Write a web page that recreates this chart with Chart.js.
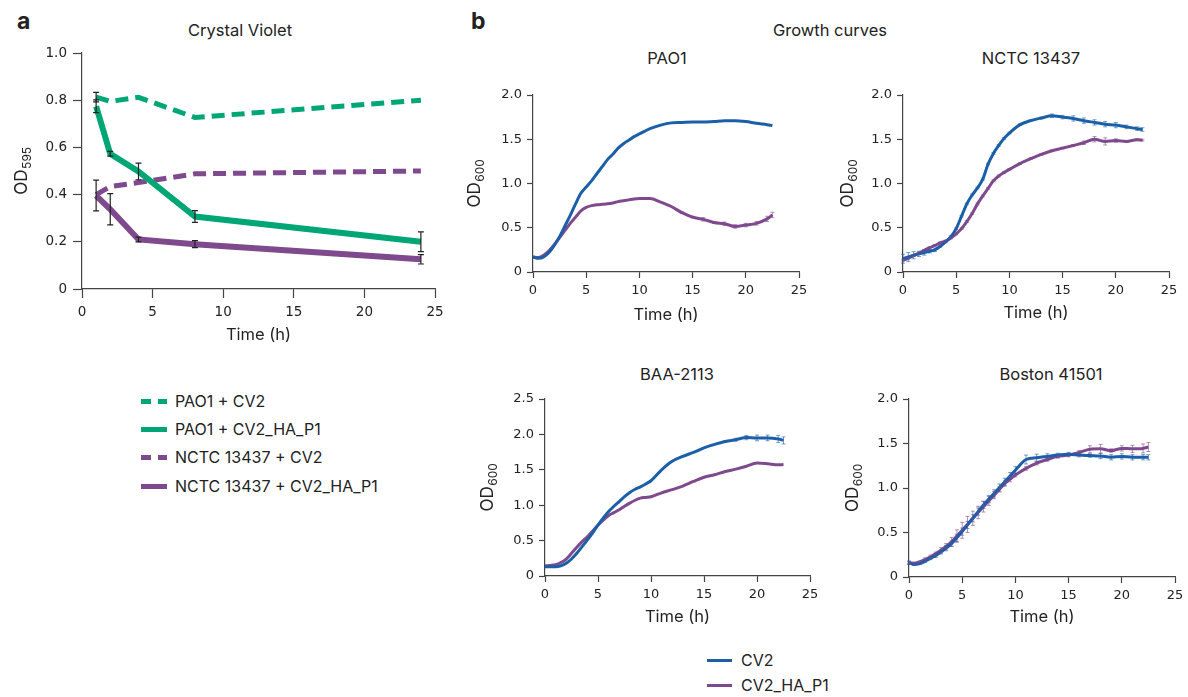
<!DOCTYPE html>
<html>
<head>
<meta charset="utf-8">
<script src="https://cdn.jsdelivr.net/npm/chart.js@4.4.1/dist/chart.umd.min.js"></script>
<style>
  body { margin: 0; background: #fff; font-family: Inter, "Noto Sans", sans-serif; color: #222; }
  #fig { position: relative; width: 1188px; height: 697px; overflow: hidden; }
  #fig canvas { position: absolute; }
  .lbl { position: absolute; white-space: nowrap; transform: translate(-50%, -50%); line-height: 1; font-size: 16.5px; }
  .tag { position: absolute; font-weight: 700; font-size: 23px; line-height: 1; }
  .leg { position: absolute; font-size: 16px; line-height: 1; }
  .leg .row { position: absolute; left: 0; white-space: nowrap; }
  .leg .sw { position: absolute; left: 0; }
  .leg .txt { position: absolute; transform: translateY(-50%); }
</style>
</head>
<body>
<div id="fig">
  <div class="tag" style="left:17px;top:10px">a</div>
  <div class="tag" style="left:471px;top:10px">b</div>
  <div class="lbl" style="left:240px;top:30px">Crystal Violet</div>
  <div class="lbl" style="left:830px;top:30px">Growth curves</div>
  <div class="lbl" style="left:667px;top:58px">PAO1</div>
  <div class="lbl" style="left:1031px;top:58px">NCTC 13437</div>
  <div class="lbl" style="left:677px;top:374px">BAA-2113</div>
  <div class="lbl" style="left:1051px;top:374px">Boston 41501</div>
  <div id="legA" class="leg" style="left:141px;top:0px"></div>
  <div id="legB" class="leg" style="left:707px;top:0px"></div>
</div>
<script>
// ---- Panel a: crystal violet biofilm assay ----
const cvTimes = [1, 2, 4, 8, 24];
const cvTicks = [0, 0.2, 0.4, 0.6, 0.8, 1.0];
const pao1Cv2 = [0.813, 0.795, 0.812, 0.727, 0.800];
const pao1Cv2Err = [0.02, 0, 0, 0, 0];
const pao1HaP1 = [0.774, 0.573, 0.498, 0.307, 0.200];
const pao1HaP1Err = [0.027, 0.01, 0.035, 0.025, 0.042];
const nctcCv2 = [0.400, 0.434, 0.451, 0.488, 0.500];
const nctcHaP1 = [0.396, 0.338, 0.210, 0.190, 0.126];
const nctcHaP1Err = [0.065, 0.066, 0.01, 0.015, 0.02];

// ---- Panel b: growth curves (OD600) ----
const timeTicks = [0, 5, 10, 15, 20, 25];
const odTicks = [0, 0.5, 1.0, 1.5, 2.0];
const odTicksBaa = [0, 0.5, 1.0, 1.5, 2.0, 2.5];
const hours = [0, 0.5, 1, 1.5, 2, 2.5, 3, 3.5, 4, 4.5, 5, 5.5, 6, 6.5, 7, 7.5, 8, 8.5, 9, 9.5, 10,
               11, 12, 13, 14, 15, 16, 17, 18, 19, 20, 21, 22, 22.5];

const pao1GrowthCv2 = [0.17, 0.155, 0.17, 0.22, 0.30, 0.40, 0.52, 0.64, 0.77, 0.89, 0.96, 1.03, 1.11, 1.19, 1.27, 1.33, 1.40, 1.45, 1.49, 1.53, 1.56,
                       1.62, 1.66, 1.685, 1.69, 1.695, 1.695, 1.70, 1.71, 1.71, 1.70, 1.68, 1.665, 1.655];
const pao1GrowthHa = [0.17, 0.165, 0.19, 0.24, 0.31, 0.39, 0.47, 0.55, 0.62, 0.69, 0.73, 0.75, 0.76, 0.765, 0.77, 0.78, 0.795, 0.805, 0.815, 0.825, 0.83,
                      0.83, 0.79, 0.74, 0.67, 0.62, 0.595, 0.56, 0.545, 0.515, 0.53, 0.55, 0.60, 0.645];
const pao1GrowthHaErr = [0, 0, 0, 0, 0, 0, 0, 0, 0, 0, 0, 0, 0, 0, 0, 0, 0, 0, 0, 0, 0,
                         0, 0, 0, 0.01, 0.01, 0.02, 0.01, 0.02, 0.02, 0.02, 0.02, 0.03, 0.03];

const nctcGrowthCv2 = [0.15, 0.17, 0.19, 0.205, 0.22, 0.235, 0.25, 0.29, 0.34, 0.40, 0.49, 0.63, 0.77, 0.87, 0.95, 1.05, 1.22, 1.34, 1.43, 1.51, 1.57,
                       1.665, 1.71, 1.74, 1.765, 1.75, 1.735, 1.71, 1.69, 1.67, 1.66, 1.64, 1.62, 1.61];
const nctcGrowthCv2Err = [0.05, 0.05, 0.04, 0.03, 0.03, 0.02, 0.02, 0.01, 0.01, 0.01, 0.01, 0.01, 0.01, 0.01, 0.01, 0.01, 0.01, 0.01, 0.01, 0.01, 0.01,
                          0.01, 0.01, 0.01, 0.02, 0.02, 0.03, 0.03, 0.03, 0.03, 0.03, 0.02, 0.02, 0.02];
const nctcGrowthHa = [0.135, 0.155, 0.185, 0.215, 0.245, 0.275, 0.30, 0.33, 0.35, 0.385, 0.43, 0.49, 0.57, 0.66, 0.77, 0.86, 0.945, 1.03, 1.085, 1.125, 1.16,
                      1.225, 1.28, 1.33, 1.37, 1.40, 1.43, 1.46, 1.50, 1.475, 1.485, 1.475, 1.495, 1.49];
const nctcGrowthHaErr = [0.01, 0.01, 0.01, 0.01, 0.01, 0.01, 0.01, 0.01, 0.01, 0.01, 0.01, 0.01, 0.01, 0.01, 0.01, 0.01, 0.01, 0.01, 0.01, 0.01, 0.01,
                         0.01, 0.01, 0.01, 0.01, 0.01, 0.01, 0.02, 0.03, 0.04, 0.02, 0.01, 0.01, 0.01];

const baaGrowthCv2 = [0.13, 0.13, 0.13, 0.145, 0.18, 0.24, 0.32, 0.415, 0.51, 0.61, 0.72, 0.82, 0.91, 0.985, 1.05, 1.12, 1.18, 1.225, 1.26, 1.30, 1.345,
                      1.50, 1.62, 1.69, 1.745, 1.81, 1.86, 1.90, 1.925, 1.955, 1.95, 1.95, 1.935, 1.915];
const baaGrowthCv2Err = [0, 0, 0, 0, 0, 0, 0, 0, 0, 0, 0, 0, 0, 0, 0, 0, 0, 0, 0, 0, 0,
                         0, 0, 0, 0, 0, 0, 0.01, 0.02, 0.03, 0.04, 0.04, 0.05, 0.05];
const baaGrowthHa = [0.145, 0.15, 0.16, 0.19, 0.24, 0.32, 0.405, 0.485, 0.555, 0.635, 0.72, 0.79, 0.855, 0.895, 0.935, 0.985, 1.03, 1.07, 1.10, 1.11, 1.12,
                     1.175, 1.22, 1.27, 1.335, 1.395, 1.43, 1.475, 1.51, 1.55, 1.595, 1.585, 1.57, 1.575];

const bostonGrowthCv2 = [0.16, 0.14, 0.15, 0.175, 0.21, 0.24, 0.28, 0.325, 0.375, 0.44, 0.51, 0.585, 0.66, 0.735, 0.81, 0.875, 0.94, 1.005, 1.07, 1.135, 1.20,
                         1.32, 1.34, 1.355, 1.37, 1.38, 1.37, 1.365, 1.36, 1.345, 1.355, 1.345, 1.345, 1.345];
const bostonGrowthCv2Err = [0.02, 0.01, 0.01, 0.01, 0.015, 0.02, 0.02, 0.03, 0.03, 0.04, 0.04, 0.04, 0.04, 0.04, 0.04, 0.04, 0.04, 0.04, 0.04, 0.04, 0.04,
                            0.05, 0.04, 0.03, 0.02, 0.02, 0.02, 0.02, 0.03, 0.03, 0.03, 0.03, 0.03, 0.03];
const bostonGrowthHa = [0.16, 0.155, 0.17, 0.195, 0.225, 0.26, 0.30, 0.345, 0.395, 0.46, 0.525, 0.59, 0.66, 0.725, 0.79, 0.855, 0.92, 0.985, 1.05, 1.10, 1.145,
                        1.22, 1.28, 1.32, 1.355, 1.37, 1.40, 1.435, 1.44, 1.42, 1.445, 1.44, 1.445, 1.46];
const bostonGrowthHaErr = [0.01, 0.01, 0.01, 0.02, 0.02, 0.02, 0.03, 0.03, 0.05, 0.07, 0.09, 0.09, 0.08, 0.07, 0.06, 0.05, 0.04, 0.03, 0.03, 0.03, 0.02,
                           0.02, 0.02, 0.02, 0.02, 0.02, 0.02, 0.04, 0.05, 0.02, 0.03, 0.04, 0.05, 0.05];

const GREEN = '#00a676';
const PURPLE = '#7e4a8d';
const BLUE = '#1b5fa8';
const AXIS = '#444';
const FONT = "Inter, 'Noto Sans', sans-serif";
const TICK_FONT = "'DejaVu Sans', Inter, sans-serif";

Chart.defaults.font.family = FONT;
Chart.defaults.color = '#222';

// Draws vertical error bars for datasets that carry an `errors` array.
const errorBars = {
  id: 'errorBars',
  afterDatasetsDraw(chart) {
    const ctx = chart.ctx;
    const yScale = chart.scales.y;
    chart.data.datasets.forEach((ds, i) => {
      if (!ds.errors) return;
      const meta = chart.getDatasetMeta(i);
      ctx.save();
      ctx.strokeStyle = ds.errColor;
      ctx.lineWidth = ds.errWidth;
      ds.data.forEach((v, j) => {
        const e = ds.errors[j];
        if (!e) return;
        const px = meta.data[j].x;
        const top = yScale.getPixelForValue(v + e);
        const bot = yScale.getPixelForValue(v - e);
        const cap = ds.errCap;
        ctx.beginPath();
        ctx.moveTo(px, top); ctx.lineTo(px, bot);
        ctx.moveTo(px - cap, top); ctx.lineTo(px + cap, top);
        ctx.moveTo(px - cap, bot); ctx.lineTo(px + cap, bot);
        ctx.stroke();
      });
      ctx.restore();
    });
  }
};

// Y axis title "OD" with a real lowered subscript (e.g. OD595, OD600).
const odTitle = {
  id: 'odTitle',
  afterDraw(chart, args, opts) {
    const ctx = chart.ctx;
    const s = chart.scales.y;
    const { top, bottom } = chart.chartArea;
    const big = `17px ${FONT}`, sm = `12px ${FONT}`;
    ctx.save();
    ctx.font = big;
    const w1 = ctx.measureText('OD').width;
    ctx.font = sm;
    const w2 = ctx.measureText(opts.sub).width;
    ctx.translate(s.left + opts.x, (top + bottom) / 2);
    ctx.rotate(-Math.PI / 2);
    ctx.fillStyle = '#222';
    ctx.textBaseline = 'alphabetic';
    const x0 = -(w1 + w2) / 2;
    ctx.font = big;
    ctx.fillText('OD', x0, 0);
    ctx.font = sm;
    ctx.fillText(opts.sub, x0 + w1 + 0.5, 4);
    ctx.restore();
  }
};

const fmt = v => (v === 0 ? '0' : v.toFixed(1));

// box = canvas rectangle on the page, area = wanted plot rectangle
function makeChart(box, area, data, ax) {
  const c = document.createElement('canvas');
  c.width = box.w;
  c.height = box.h;
  c.style.left = box.left + 'px';
  c.style.top = box.top + 'px';
  document.getElementById('fig').appendChild(c);
  const yw = area.l - box.left;
  const xh = box.top + box.h - area.b;
  return new Chart(c, {
    type: 'line',
    data,
    options: {
      responsive: false,
      animation: false,
      devicePixelRatio: 1,
      layout: { padding: { left: 0, top: area.t - box.top, right: box.left + box.w - area.r, bottom: 0 } },
      plugins: {
        legend: { display: false },
        tooltip: { enabled: false },
        odTitle: { sub: ax.sub, x: ax.ytx }
      },
      elements: { point: { radius: 0 } },
      scales: {
        x: {
          type: 'linear', min: 0, max: 25,
          afterBuildTicks: s => { s.ticks = timeTicks.map(v => ({ value: v })); },
          afterFit: s => { s.height = xh; s.paddingLeft = 0; s.paddingRight = 0; },
          ticks: { font: { size: ax.tick, family: TICK_FONT }, padding: ax.tp, maxRotation: 0, color: '#222', autoSkip: false },
          grid: { drawOnChartArea: false, tickLength: ax.tl, tickWidth: 1.2, tickColor: AXIS },
          border: { color: AXIS, width: 1.2 },
          title: { display: true, text: 'Time (h)', font: { size: 16.5 }, color: '#222', padding: { top: 0, bottom: ax.xtp } }
        },
        y: {
          type: 'linear', min: 0, max: ax.ymax,
          afterBuildTicks: s => { s.ticks = ax.yticks.map(v => ({ value: v })); },
          afterFit: s => { s.width = yw; s.paddingTop = 0; s.paddingBottom = 0; },
          ticks: { font: { size: ax.tick, family: TICK_FONT }, padding: ax.tp, color: '#222', callback: fmt, autoSkip: false },
          grid: { drawOnChartArea: false, tickLength: ax.tl, tickWidth: 1.2, tickColor: AXIS },
          border: { color: AXIS, width: 1.2 }
        }
      }
    },
    plugins: [errorBars, odTitle]
  });
}

// ---- panel a ----
const cvErr = { errColor: '#222', errWidth: 1.2, errCap: 3 };
makeChart({ left: 0, top: 40, w: 460, h: 320 }, { l: 82, t: 53, r: 435, b: 289 }, {
  labels: cvTimes,
  datasets: [
    { label: 'PAO1 + CV2', data: pao1Cv2, errors: pao1Cv2Err, borderColor: GREEN, borderWidth: 5, borderDash: [13, 7], order: 1, ...cvErr },
    { label: 'PAO1 + CV2_HA_P1', data: pao1HaP1, errors: pao1HaP1Err, borderColor: GREEN, borderWidth: 6, order: 0, ...cvErr },
    { label: 'NCTC 13437 + CV2', data: nctcCv2, borderColor: PURPLE, borderWidth: 5, borderDash: [13, 7], order: 1 },
    { label: 'NCTC 13437 + CV2_HA_P1', data: nctcHaP1, errors: nctcHaP1Err, borderColor: PURPLE, borderWidth: 6, order: 0, ...cvErr }
  ]
}, { tick: 13.5, tp: 6, tl: 9, xtp: 15, ytx: 27, ymax: 1.0, yticks: cvTicks, sub: '595' });

// ---- panel b ----
function growth(cv2, cv2Err, ha, haErr) {
  return {
    labels: hours,
    datasets: [
      { label: 'CV2', data: cv2, errors: cv2Err, borderColor: BLUE, borderWidth: 3, order: 0,
        cubicInterpolationMode: 'monotone', errColor: 'rgba(27,95,168,0.6)', errWidth: 1, errCap: 2 },
      { label: 'CV2_HA_P1', data: ha, errors: haErr, borderColor: PURPLE, borderWidth: 3, order: 1,
        cubicInterpolationMode: 'monotone', errColor: 'rgba(126,74,141,0.6)', errWidth: 1, errCap: 2 }
    ]
  };
}
const small = (xtp, ytx, yticks) => ({ tick: 13, tp: 5, tl: 6, xtp, ytx, ymax: yticks[yticks.length - 1], yticks, sub: '600' });

makeChart({ left: 460, top: 80, w: 360, h: 270 }, { l: 533, t: 95, r: 799, b: 272 },
  growth(pao1GrowthCv2, null, pao1GrowthHa, pao1GrowthHaErr), small(25, 20, odTicks));
makeChart({ left: 820, top: 80, w: 368, h: 270 }, { l: 903, t: 95, r: 1169, b: 272 },
  growth(nctcGrowthCv2, nctcGrowthCv2Err, nctcGrowthHa, nctcGrowthHaErr), small(27, 33, odTicks));
makeChart({ left: 460, top: 385, w: 360, h: 270 }, { l: 545, t: 399, r: 810, b: 576 },
  growth(baaGrowthCv2, baaGrowthCv2Err, baaGrowthHa, null), small(28, 33, odTicksBaa));
makeChart({ left: 820, top: 385, w: 368, h: 270 }, { l: 909, t: 399, r: 1175, b: 577 },
  growth(bostonGrowthCv2, bostonGrowthCv2Err, bostonGrowthHa, bostonGrowthHaErr), small(28, 38, odTicks));

// ---- legends ----
function dashSw(color, h) {
  return `<span class="sw" style="top:${-h / 2}px;width:10px;height:${h}px;background:${color}"></span>` +
         `<span class="sw" style="left:17px;top:${-h / 2}px;width:9px;height:${h}px;background:${color}"></span>`;
}
function solidSw(color, h, w) {
  return `<span class="sw" style="top:${-h / 2}px;width:${w}px;height:${h}px;background:${color}"></span>`;
}
const legA = [
  ['PAO1 + CV2', dashSw(GREEN, 5), 401],
  ['PAO1 + CV2_HA_P1', solidSw(GREEN, 5, 26), 429],
  ['NCTC 13437 + CV2', dashSw(PURPLE, 5), 457],
  ['NCTC 13437 + CV2_HA_P1', solidSw(PURPLE, 5, 26), 486]
];
document.getElementById('legA').innerHTML = legA.map(([t, sw, y]) =>
  `<div class="row" style="top:${y}px">${sw}<span class="txt" style="left:34px">${t}</span></div>`).join('');
const legB = [
  ['CV2', solidSw(BLUE, 3, 25), 660],
  ['CV2_HA_P1', solidSw(PURPLE, 3, 25), 685]
];
document.getElementById('legB').innerHTML = legB.map(([t, sw, y]) =>
  `<div class="row" style="top:${y}px">${sw}<span class="txt" style="left:34px">${t}</span></div>`).join('');
</script>
</body>
</html>
